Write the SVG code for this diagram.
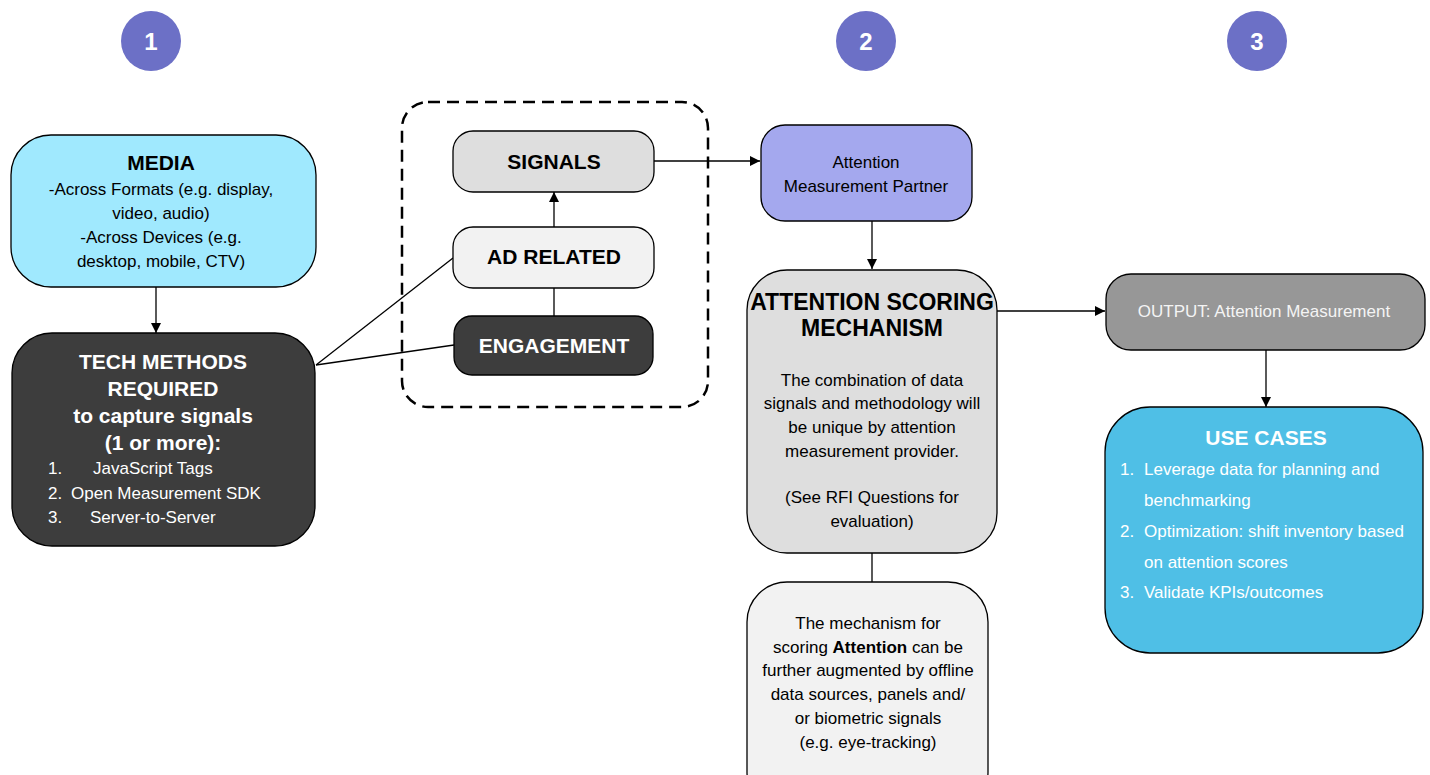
<svg xmlns="http://www.w3.org/2000/svg" width="1430" height="775" viewBox="0 0 1430 775">
<defs>
<marker id="arr" viewBox="0 0 10 10" refX="10" refY="5" markerWidth="10" markerHeight="10" markerUnits="userSpaceOnUse" orient="auto">
<path d="M0,0 L10,5 L0,10 z" fill="#000"/>
</marker>
<style>
text{font-family:"Liberation Sans",Arial,sans-serif;}
.box{stroke:#000;stroke-width:1.3;}
.h{font-weight:bold;font-size:21px;text-anchor:middle;}
.b{font-size:17px;text-anchor:middle;}
.l{font-size:17px;}
.w{fill:#fff;}
.num{font-weight:bold;font-size:24px;text-anchor:middle;fill:#fff;}
.c{stroke:#000;stroke-width:1.3;fill:none;}
</style>
</defs>
<rect width="1430" height="775" fill="#fff"/>

<g id="step1"><circle cx="151" cy="41" r="30" fill="#6c70c6"/><text class="num" x="151" y="50">1</text></g>
<g id="step2"><circle cx="866" cy="41" r="30" fill="#6c70c6"/><text class="num" x="866" y="50">2</text></g>
<g id="step3"><circle cx="1257" cy="41" r="30" fill="#6c70c6"/><text class="num" x="1257" y="50">3</text></g>

<g id="connectors">
<line class="c" x1="156" y1="287" x2="156" y2="333" marker-end="url(#arr)"/>
<line class="c" x1="316" y1="365" x2="453" y2="258"/>
<line class="c" x1="316" y1="365" x2="454" y2="345"/>
<line class="c" x1="554" y1="316" x2="554" y2="288"/>
<line class="c" x1="554" y1="227" x2="554" y2="192" marker-end="url(#arr)"/>
<line class="c" x1="654" y1="161" x2="760" y2="161" marker-end="url(#arr)"/>
<line class="c" x1="872" y1="221" x2="872" y2="269" marker-end="url(#arr)"/>
<line class="c" x1="872" y1="553" x2="872" y2="582"/>
<line class="c" x1="997" y1="311" x2="1105" y2="311" marker-end="url(#arr)"/>
<line class="c" x1="1266" y1="350" x2="1266" y2="407" marker-end="url(#arr)"/>
</g>

<g id="group-signals"><rect x="402" y="102" width="306" height="305" rx="26" fill="none" stroke="#000" stroke-width="2.5" stroke-dasharray="12 7"/></g>

<g id="media">
<rect class="box" x="11" y="135" width="305" height="152" rx="40" fill="#a0e9fe"/>
<text class="h" x="161" y="170">MEDIA</text>
<text class="b" x="161" y="195">-Across Formats (e.g. display,</text>
<text class="b" x="161" y="219">video, audio)</text>
<text class="b" x="161" y="243">-Across Devices (e.g.</text>
<text class="b" x="161" y="267">desktop, mobile, CTV)</text>
</g>

<g id="tech">
<rect class="box" x="12" y="333" width="303" height="213" rx="40" fill="#3d3d3d"/>
<text class="h w" x="163" y="369">TECH METHODS</text>
<text class="h w" x="163" y="396">REQUIRED</text>
<text class="h w" x="163" y="423">to capture signals</text>
<text class="h w" x="163" y="450">(1 or more):</text>
<text class="l w" x="48" y="474">1.</text><text class="l w" x="93" y="474">JavaScript Tags</text>
<text class="l w" x="48" y="499">2.</text><text class="l w" x="71" y="499">Open Measurement SDK</text>
<text class="l w" x="48" y="523">3.</text><text class="l w" x="90" y="523">Server-to-Server</text>
</g>

<g id="signals">
<rect class="box" x="453" y="131" width="201" height="61" rx="20" fill="#dedede"/>
<text class="h" x="554" y="169">SIGNALS</text>
</g>
<g id="adrelated">
<rect class="box" x="453" y="227" width="201" height="61" rx="20" fill="#f2f2f2"/>
<text class="h" x="554" y="264">AD RELATED</text>
</g>
<g id="engagement">
<rect class="box" x="454" y="316" width="199" height="59" rx="18" fill="#3d3d3d"/>
<text class="h w" x="554" y="353">ENGAGEMENT</text>
</g>

<g id="partner">
<rect class="box" x="761" y="125" width="211" height="96" rx="24" fill="#a4a8ee"/>
<text class="b" x="866" y="168">Attention</text>
<text class="b" x="866" y="192">Measurement Partner</text>
</g>

<g id="scoring">
<rect class="box" x="747" y="270" width="250" height="283" rx="40" fill="#dedede"/>
<text class="h" x="872" y="310" style="font-size:23px">ATTENTION SCORING</text>
<text class="h" x="872" y="336" style="font-size:23px">MECHANISM</text>
<text class="b" x="872" y="386">The combination of data</text>
<text class="b" x="872" y="409">signals and methodology will</text>
<text class="b" x="872" y="433">be unique by attention</text>
<text class="b" x="872" y="457">measurement provider.</text>
<text class="b" x="872" y="503">(See RFI Questions for</text>
<text class="b" x="872" y="527">evaluation)</text>
</g>

<g id="augment">
<rect class="box" x="747" y="582" width="241" height="230" rx="40" fill="#f2f2f2"/>
<text class="b" x="868" y="629">The mechanism for</text>
<text class="b" x="868" y="653">scoring <tspan font-weight="bold">Attention</tspan> can be</text>
<text class="b" x="868" y="676">further augmented by offline</text>
<text class="b" x="868" y="700">data sources, panels and/</text>
<text class="b" x="868" y="724">or biometric signals</text>
<text class="b" x="868" y="748">(e.g. eye-tracking)</text>
</g>

<g id="output">
<rect class="box" x="1106" y="274" width="319" height="76" rx="25" fill="#979797"/>
<text class="b" x="1264" y="317" fill="#f4f4f4">OUTPUT: Attention Measurement</text>
</g>

<g id="usecases">
<rect class="box" x="1105" y="407" width="318" height="246" rx="45" fill="#4fbfe6"/>
<text class="h w" x="1266" y="445">USE CASES</text>
<text class="l w" x="1120" y="475">1.</text><text class="l w" x="1144" y="475">Leverage data for planning and</text>
<text class="l w" x="1144" y="506">benchmarking</text>
<text class="l w" x="1120" y="537">2.</text><text class="l w" x="1144" y="537">Optimization: shift inventory based</text>
<text class="l w" x="1144" y="568">on attention scores</text>
<text class="l w" x="1120" y="598">3.</text><text class="l w" x="1144" y="598">Validate KPIs/outcomes</text>
</g>
</svg>
